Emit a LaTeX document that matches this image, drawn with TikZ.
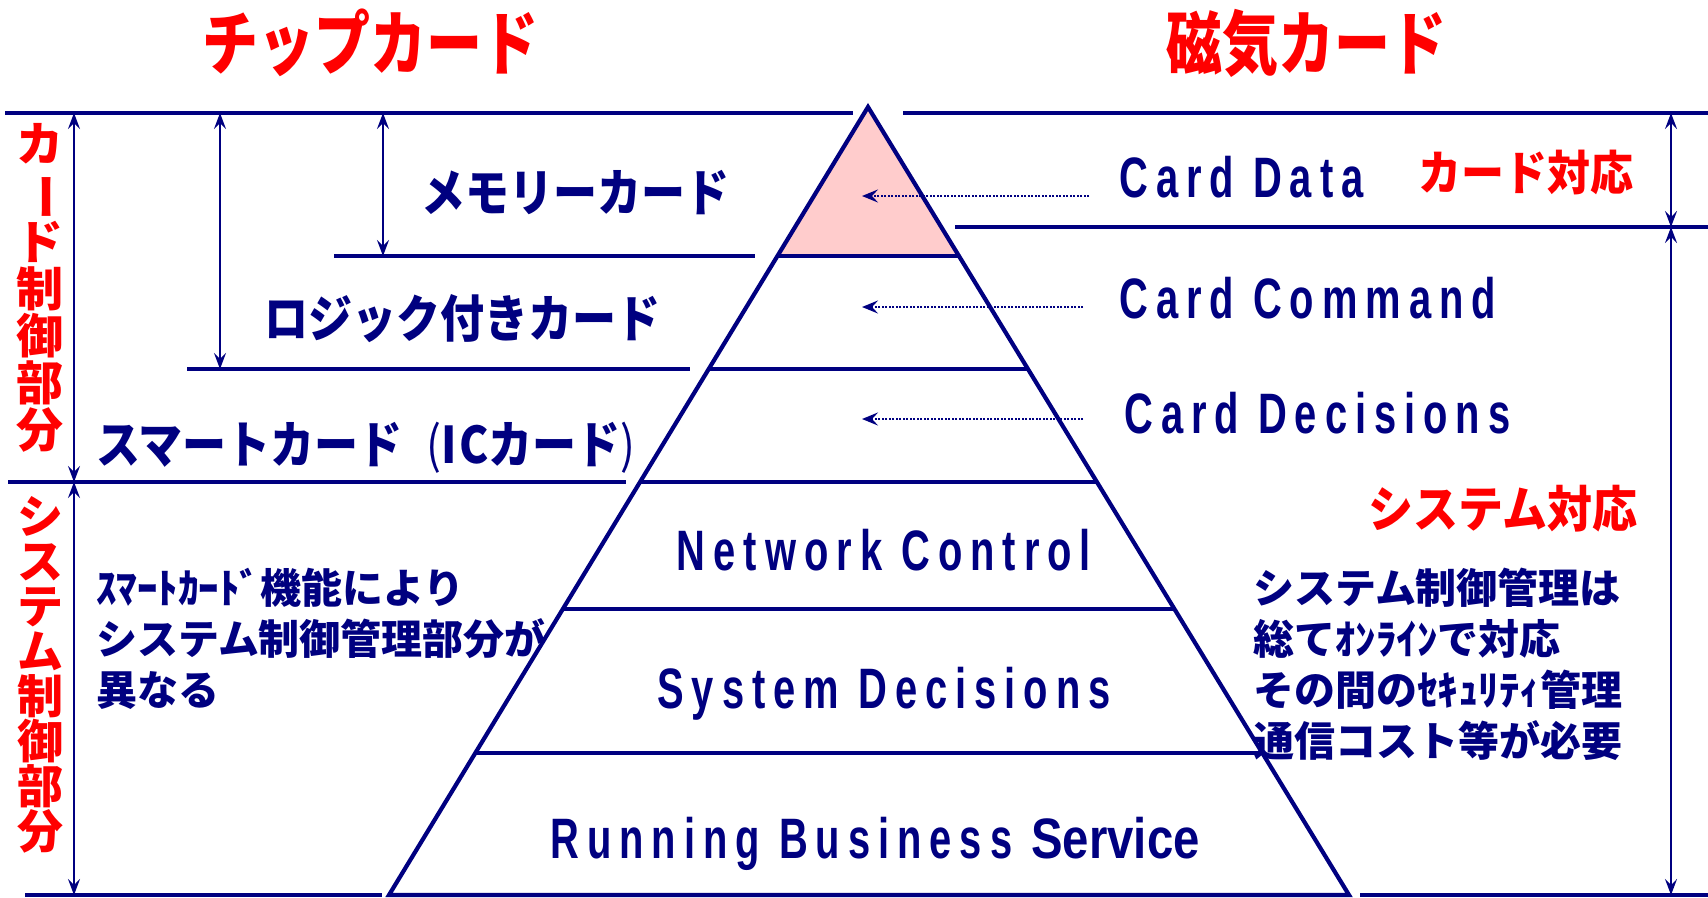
\documentclass[tikz,border=0pt]{standalone}
\usepackage{fontspec}
\usepackage{graphicx}
\usetikzlibrary{arrows.meta,calc}
\newfontfamily\jpfont{Noto Sans CJK JP}
\newfontfamily\cardfont{Liberation Sans}[FakeStretch=0.7,LetterSpace=14]
\newfontfamily\svcfont{Liberation Sans}[FakeStretch=0.83]
\newcommand\tallj[2][1.15]{\scalebox{1}[#1]{#2}}
\definecolor{navy}{RGB}{0,0,128}
\definecolor{titlered}{RGB}{255,0,0}
\definecolor{chippink}{RGB}{255,204,204}
\tikzset{
  layer/.style={draw=navy, line width=4.2pt},
  span/.style={draw=navy, line width=1.5pt, {Stealth[length=16pt,width=12pt,inset=6pt]}-{Stealth[length=16pt,width=12pt,inset=6pt]}},
  hint/.style={draw=navy, line width=2.5pt, dash pattern=on 2pt off 1.5pt, -{Stealth[length=16pt,width=13pt,inset=6pt]}},
  title/.style={inner sep=0pt, text=titlered, font=\jpfont\bfseries\fontsize{56}{56}\selectfont},
  redlabel/.style={inner sep=0pt, text=titlered, font=\jpfont\bfseries\fontsize{43}{43}\selectfont},
  cardtype/.style={inner sep=0pt, text=navy, font=\jpfont\bfseries\fontsize{44}{44}\selectfont},
  note/.style={inner sep=0pt, text=navy, align=left, font=\jpfont\bfseries\fontsize{41}{51}\selectfont},
  tier/.style={inner sep=0pt, text=navy, font=\cardfont\bfseries\fontsize{57}{57}\selectfont},
  side/.style={inner sep=0pt, text=titlered, align=center},
}
\begin{document}
\begin{tikzpicture}[x=1pt,y=-1pt]
\useasboundingbox (0,0) rectangle (1708,897);
%----pyramid---------------------------------------
\coordinate (apex) at (868,107);
\coordinate (bl) at (389,895);
\coordinate (br) at (1349,895);
\coordinate (Ldat) at ($(apex)!0.189!(bl)$);
\coordinate (Rdat) at ($(apex)!0.189!(br)$);
\fill[chippink] (apex) -- (Ldat) -- (Rdat) -- cycle;
\foreach \t/\n in {0.189/dat, 0.3325/cmd, 0.4759/dec, 0.637/net, 0.8198/sys}{
  \coordinate (L\n) at ($(apex)!\t!(bl)$);
  \coordinate (R\n) at ($(apex)!\t!(br)$);
  \draw[layer] (L\n) -- (R\n);
}
\draw[layer, line join=miter] (bl) -- (apex) -- (br) -- cycle;
%----outer lines-----------------------------------
\coordinate (topL) at (5,113);    \coordinate (topM) at (853,113);
\coordinate (topR) at (903,113);  \coordinate (topE) at (1708,113);
\coordinate (datS) at (955,227);  \coordinate (datE) at (1708,227);
\coordinate (memS) at (334,256);  \coordinate (memE) at (755,256);
\coordinate (logS) at (187,369);  \coordinate (logE) at (690,369);
\coordinate (smtS) at (8,482);    \coordinate (smtE) at (626,482);
\coordinate (botL) at (25,895);   \coordinate (botM) at (382,895);
\coordinate (botR) at (1360,895); \coordinate (botE) at (1708,895);
\draw[layer] (topL) -- (topM);
\draw[layer] (topR) -- (topE);
\draw[layer] (datS) -- (datE);
\draw[layer] (memS) -- (memE);
\draw[layer] (logS) -- (logE);
\draw[layer] (smtS) -- (smtE);
\draw[layer] (botL) -- (botM);
\draw[layer] (botR) -- (botE);
%----spans-----------------------------------------
\coordinate (cardTop) at (74,113);   \coordinate (cardBot) at (74,482);
\coordinate (sysBot) at (74,895);
\coordinate (logTop) at (220,113);   \coordinate (logBot) at (220,369);
\coordinate (memTop) at (383,113);   \coordinate (memBot) at (383,256);
\coordinate (rTop) at (1671,113);    \coordinate (rMid) at (1671,227);
\coordinate (rBot) at (1671,895);
\draw[span] (cardTop) -- (cardBot);
\draw[span] (cardBot) -- (sysBot);
\draw[span] (logTop) -- (logBot);
\draw[span] (memTop) -- (memBot);
\draw[span] (rTop) -- (rMid);
\draw[span] (rMid) -- (rBot);
%----text------------------------------------------
\node[title] (chip) at (370,43) {\tallj[1.25]{チップカード}};
\node[title] (mag) at (1306,43) {\tallj[1.25]{磁気カード}};
\node[cardtype] (memory) at (575,193) {\tallj{メモリーカード}};
\node[cardtype] (logic) at (462,319) {\tallj{ロジック付きカード}};
\node[cardtype, anchor=west] (smart) at (96,448)
  {\tallj{スマートカード\hspace{24pt}{\mdseries(}I\kern2pt Cカード{\mdseries)}}};
\node[side, font=\jpfont\bfseries\fontsize{47}{47}\selectfont] (cardside) at (40,288)
  {カ\\\rotatebox[origin=c]{-90}{ー}\\ド\\制\\御\\部\\分};
\node[side, font=\jpfont\bfseries\fontsize{46}{45}\selectfont] (sysside) at (40,675)
  {シ\\ス\\テ\\ム\\制\\御\\部\\分};
\node[tier, anchor=base west] (data) at (1119,197) {Card Data};
\node[tier, anchor=base west] (cmd) at (1119,318) {Card Command};
\node[tier, anchor=base west] (dec) at (1124,433) {Card Decisions};
\node[tier, anchor=base] (net) at (884,570) {Network Control};
\node[tier, anchor=base] (sys) at (884,708) {System Decisions};
\node[tier, anchor=base] (run) at (875,858) {Running Business {\svcfont Service}};
\node[redlabel, anchor=west] (cardok) at (1418,172) {\tallj[1.1]{カード対応}};
\node[redlabel, font=\jpfont\bfseries\fontsize{45}{45}\selectfont] (sysok) at (1503,509)
  {\tallj[1.1]{システム対応}};
\node[note, anchor=north west] (leftnote) at (96,568)
  {ｽﾏｰﾄｶｰﾄﾞ機能により\\システム制御管理部分が\\異なる};
\node[note, anchor=north west] (rightnote) at (1253,568)
  {システム制御管理は\\総てｵﾝﾗｲﾝで対応\\その間のｾｷｭﾘﾃｨ管理\\通信コスト等が必要};
%----hint arrows-----------------------------------
\coordinate (hData) at (1089,196);
\coordinate (hCmd) at (1083,307);
\coordinate (hDec) at (1083,419);
\draw[hint] (hData) -- ([xshift=-6pt]hData -| apex);
\draw[hint] (hCmd) -- ([xshift=-6pt]hCmd -| apex);
\draw[hint] (hDec) -- ([xshift=-6pt]hDec -| apex);
\end{tikzpicture}
\end{document}
